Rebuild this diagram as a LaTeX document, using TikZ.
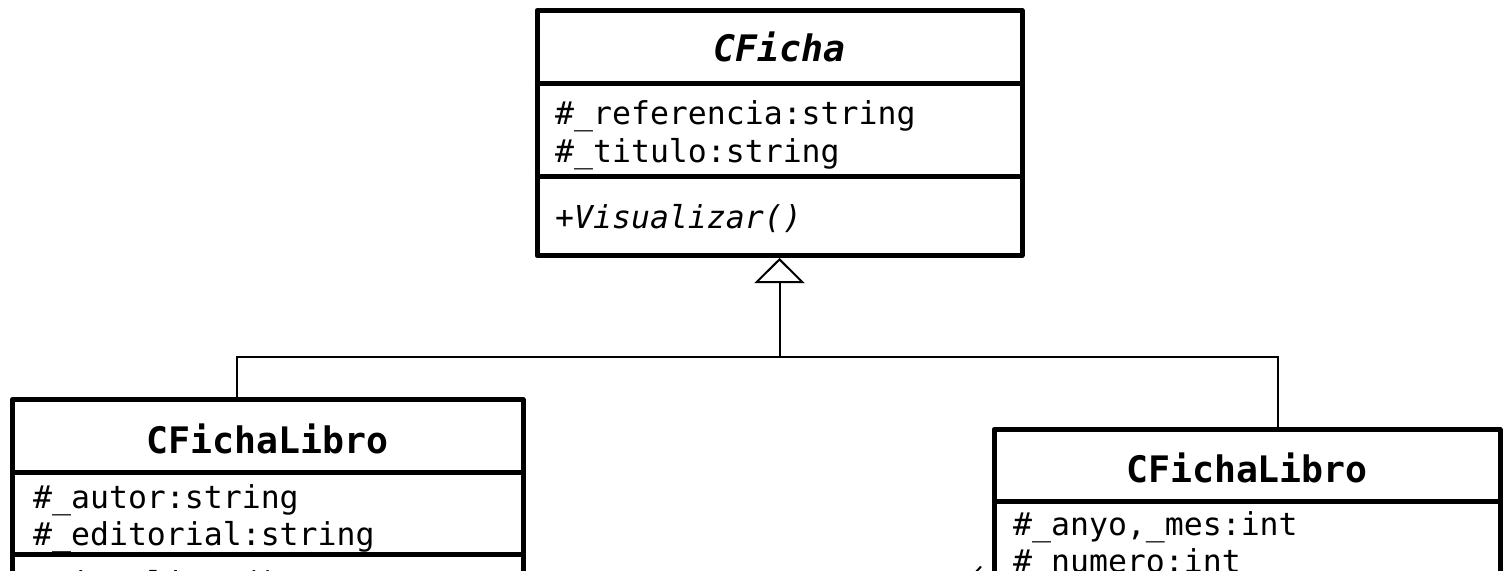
\documentclass[tikz,border=0pt]{standalone}
\usepackage{fontspec}
\setmonofont{DejaVu Sans Mono}
\usetikzlibrary{arrows.meta}

% the font's own underscore glyph
\newcommand{\usc}{\char"5F\relax}

\tikzset{
  classbox/.style={draw, line width=5pt, line join=round, fill=white,
    inner sep=0pt, outer sep=2.5pt},
  divider/.style={line width=5pt},
  classname/.style={anchor=base, inner sep=0pt,
    font=\fontsize{36.5pt}{40pt}\selectfont\ttfamily\bfseries},
  member/.style={anchor=base west, inner sep=0pt,
    font=\fontsize{31.5pt}{36pt}\selectfont\ttfamily},
  genline/.style={line width=2pt},
  gentip/.style={-{Triangle[open, length=25pt, width=50pt, line width=2pt]}}
}

\begin{document}
\begin{tikzpicture}[x=1pt, y=-1pt]
  \useasboundingbox (0,0) rectangle (1503,570);
  \fill[white] (0,0) rectangle (1503,570);
  \clip (0,0) rectangle (1503,570);

  % abstract base class
  \node[classbox, minimum width=485pt, minimum height=245pt] (ficha) at (779.5,133) {};
  \draw[divider] (ficha.west |- 0,83.5) -- (ficha.east |- 0,83.5);
  \draw[divider] (ficha.west |- 0,176.5) -- (ficha.east |- 0,176.5);
  \node[classname, font=\fontsize{36.5pt}{40pt}\selectfont\ttfamily\bfseries\itshape]
    (fichaName) at (779.5,61) {CFicha};
  \node[member] (fichaA1) at (555,124) {\#\usc referencia:string};
  \node[member] (fichaA2) at (555,162) {\#\usc titulo:string};
  \node[member, font=\fontsize{31.5pt}{36pt}\selectfont\ttfamily\itshape]
    (fichaM1) at (555,228) {+Visualizar()};

  % left subclass
  \node[classbox, minimum width=510.5pt, minimum height=240.5pt] (libro) at (267.75,519.75) {};
  \draw[divider] (libro.west |- 0,472.5) -- (libro.east |- 0,472.5);
  \draw[divider] (libro.west |- 0,554.5) -- (libro.east |- 0,554.5);
  \node[classname] (libroName) at (267.75,453) {CFichaLibro};
  \node[member] (libroA1) at (33,508) {\#\usc autor:string};
  \node[member] (libroA2) at (33,545) {\#\usc editorial:string};
  \node[member] (libroM1) at (33,594) {+Visualizar()};

  % right subclass
  \node[classbox, minimum width=506pt, minimum height=270.5pt] (revista) at (1247,564.75) {};
  \draw[divider] (revista.west |- 0,501.7) -- (revista.east |- 0,501.7);
  \node[classname] (revistaName) at (1247,482) {CFichaLibro};
  \node[member] (revistaA1) at (1013,535) {\#\usc anyo,\usc mes:int};
  \node[member] (revistaA2) at (1013,572) {\#\usc numero:int};

  % generalization
  \coordinate (jm) at (ficha.south |- 0,357);
  \coordinate (jl) at (237,357);
  \coordinate (jr) at (1278,357);
  \draw[genline] (libro.north -| jl) -- (jl) -- (jr) -- (revista.north -| jr);
  \draw[genline, gentip] (jm) -- (ficha.south);

  % small stroke at the lower edge, left of the right class
  \coordinate (mk1) at (975,573);
  \coordinate (mk2) at (981,566.5);
  \draw[line width=2pt] (mk1) -- (mk2);
\end{tikzpicture}
\end{document}
